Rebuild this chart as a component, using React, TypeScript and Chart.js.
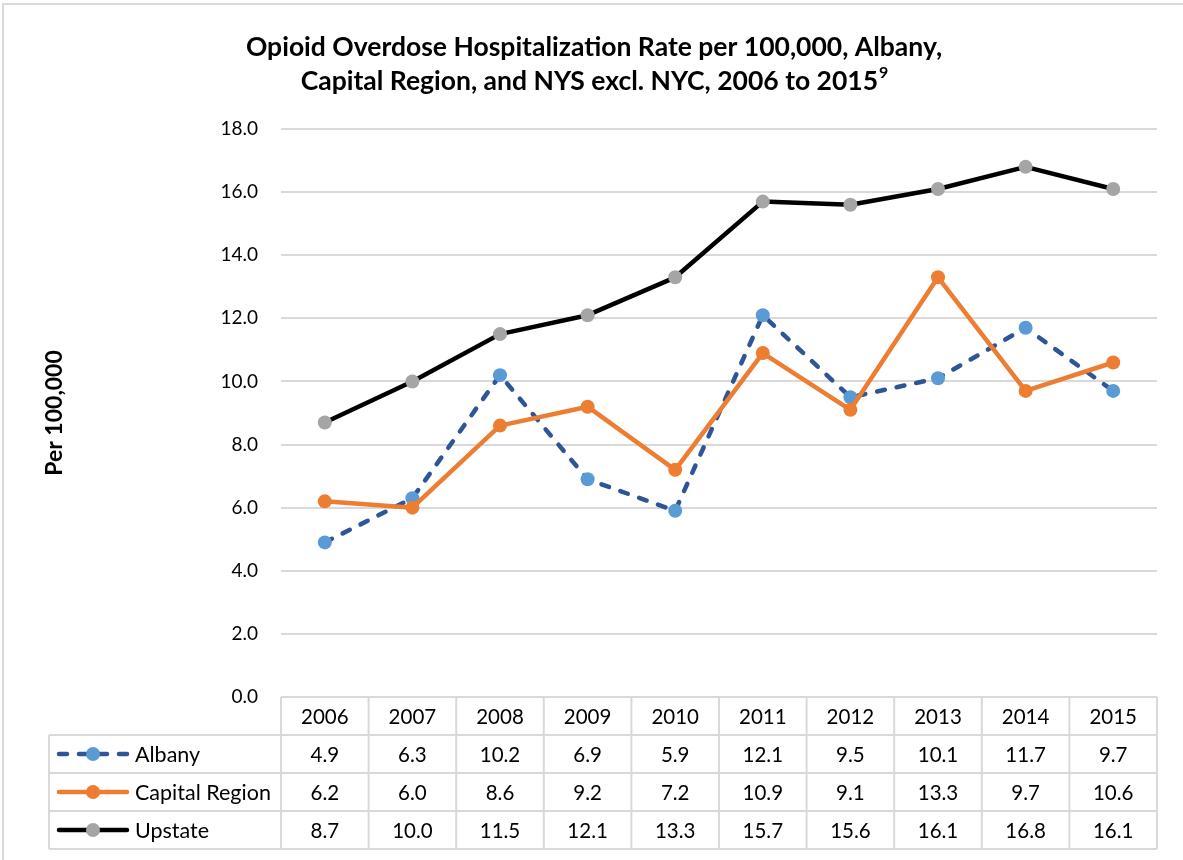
import React, { useEffect, useRef } from "react";
import { Chart, registerables } from "chart.js";

Chart.register(...registerables);

const years = ["2006", "2007", "2008", "2009", "2010", "2011", "2012", "2013", "2014", "2015"];
const albany = [4.9, 6.3, 10.2, 6.9, 5.9, 12.1, 9.5, 10.1, 11.7, 9.7];
const capitalRegion = [6.2, 6.0, 8.6, 9.2, 7.2, 10.9, 9.1, 13.3, 9.7, 10.6];
const upstate = [8.7, 10.0, 11.5, 12.1, 13.3, 15.7, 15.6, 16.1, 16.8, 16.1];
const seriesNames = ["Albany", "Capital Region", "Upstate"];
const titleLine1 = "Opioid Overdose Hospitalization Rate per 100,000, Albany,";
const titleLine2 = "Capital Region, and NYS excl. NYC, 2006 to 2015";
const titleSup = "9";
const yAxisTitle = "Per 100,000";

const FONT = "Lato, 'Open Sans', sans-serif";
const GRID = "#d9d9d9";

const extrasPlugin = {
  id: "extras",
  afterDraw(chart: any) {
    const ctx = chart.ctx;
    const x = chart.scales.x;
    const y = chart.scales.y;
    ctx.save();
    // outer border
    ctx.strokeStyle = GRID;
    ctx.lineWidth = 2;
    ctx.strokeRect(3, 4, 1200, 900);

    // title
    ctx.fillStyle = "#000";
    ctx.font = `bold 26.5px ${FONT}`;
    ctx.textAlign = "center";
    ctx.textBaseline = "middle";
    const cx = 594;
    ctx.fillText(titleLine1, cx, 47);
    const w2 = ctx.measureText(titleLine2).width;
    ctx.font = `bold 16px ${FONT}`;
    const ws = ctx.measureText(titleSup).width;
    const start = cx - (w2 + ws) / 2;
    ctx.textAlign = "left";
    ctx.font = `bold 26.5px ${FONT}`;
    ctx.fillText(titleLine2, start, 81);
    ctx.font = `bold 16px ${FONT}`;
    ctx.fillText(titleSup, start + w2 + 1, 73);

    // y axis title
    ctx.save();
    ctx.translate(55, (y.top + y.bottom) / 2);
    ctx.rotate(-Math.PI / 2);
    ctx.textAlign = "center";
    ctx.font = `bold 23px ${FONT}`;
    ctx.fillText(yAxisTitle, 0, 0);
    ctx.restore();

    // data table
    const step = x.getPixelForValue(1) - x.getPixelForValue(0);
    const left = chart.chartArea.left;
    const right = chart.chartArea.right;
    const top = chart.chartArea.bottom;
    const rowH = 38;
    const tableLeft = 49;
    const nRows = 4;
    ctx.strokeStyle = GRID;
    ctx.lineWidth = 2;
    ctx.beginPath();
    ctx.moveTo(left, top);
    ctx.lineTo(right, top);
    for (let r = 1; r <= nRows; r++) {
      ctx.moveTo(tableLeft, top + r * rowH);
      ctx.lineTo(right, top + r * rowH);
    }
    ctx.moveTo(tableLeft, top + rowH);
    ctx.lineTo(tableLeft, top + nRows * rowH);
    for (let i = 0; i <= years.length; i++) {
      const xx = left + i * step;
      ctx.moveTo(xx, top);
      ctx.lineTo(xx, top + nRows * rowH);
    }
    ctx.stroke();

    ctx.fillStyle = "#000";
    ctx.font = `20.5px ${FONT}`;
    ctx.textAlign = "center";
    ctx.textBaseline = "middle";
    years.forEach((yr, i) => {
      ctx.fillText(yr, x.getPixelForValue(i), top + rowH / 2 + 1);
    });
    chart.data.datasets.forEach((ds: any, idx: number) => {
      const rowY = top + (idx + 1) * rowH + rowH / 2 + 1;
      ctx.textAlign = "center";
      ctx.fillStyle = "#000";
      ctx.font = `20.5px ${FONT}`;
      ds.data.forEach((v: number, i: number) => {
        ctx.fillText(v.toFixed(1), x.getPixelForValue(i), rowY);
      });
      // legend key
      ctx.save();
      ctx.strokeStyle = ds.borderColor;
      ctx.lineWidth = ds.borderWidth;
      ctx.lineCap = "round";
      ctx.setLineDash(ds.borderDash || []);
      ctx.beginPath();
      ctx.moveTo(59, rowY - 1);
      ctx.lineTo(127, rowY - 1);
      ctx.stroke();
      ctx.setLineDash([]);
      ctx.fillStyle = ds.pointBackgroundColor;
      ctx.beginPath();
      ctx.arc(93, rowY - 1, 7, 0, Math.PI * 2);
      ctx.fill();
      ctx.restore();
      ctx.textAlign = "left";
      ctx.fillStyle = "#000";
      ctx.font = `21.5px ${FONT}`;
      ctx.fillText(ds.label, 135, rowY);
    });
    ctx.restore();
  },
};

export default function App() {
  const ref = useRef<HTMLCanvasElement | null>(null);
  useEffect(() => {
    if (!ref.current) return;
    const chart = new Chart(ref.current, {
      type: "line",
      data: {
        labels: years,
        datasets: [
          {
            label: seriesNames[0],
            data: albany,
            borderColor: "#2F5597",
            borderWidth: 4.5,
            borderDash: [8, 12],
            borderCapStyle: "round",
            pointBackgroundColor: "#5B9BD5",
            pointBorderColor: "#5B9BD5",
            pointRadius: 7,
            pointBorderWidth: 0,
            tension: 0,
            order: 2,
          },
          {
            label: seriesNames[1],
            data: capitalRegion,
            borderColor: "#ED7D31",
            borderWidth: 4.5,
            borderCapStyle: "round",
            borderJoinStyle: "round",
            pointBackgroundColor: "#ED7D31",
            pointBorderColor: "#ED7D31",
            pointRadius: 7,
            pointBorderWidth: 0,
            tension: 0,
            order: 1,
          },
          {
            label: seriesNames[2],
            data: upstate,
            borderColor: "#000000",
            borderWidth: 4.5,
            borderCapStyle: "round",
            borderJoinStyle: "round",
            pointBackgroundColor: "#A5A5A5",
            pointBorderColor: "#A5A5A5",
            pointRadius: 7,
            pointBorderWidth: 0,
            tension: 0,
            order: 0,
          },
        ],
      } as any,
      options: {
        responsive: false,
        animation: false,
        layout: { padding: { top: 129, bottom: 163, left: 0, right: 26 } },
        plugins: {
          legend: { display: false },
          title: { display: false },
          tooltip: { enabled: false },
        },
        scales: {
          x: {
            type: "category",
            offset: true,
            display: false,
          },
          y: {
            min: 0,
            max: 18,
            afterFit: (s: any) => {
              s.width = 281;
            },
            border: { display: false },
            grid: { color: GRID, lineWidth: 2, drawTicks: false },
            ticks: {
              stepSize: 2,
              padding: 23,
              color: "#000",
              font: { family: FONT, size: 19 },
              callback: (v: any) => Number(v).toFixed(1),
            },
          },
        },
      } as any,
      plugins: [extrasPlugin],
    });
    return () => chart.destroy();
  }, []);
  return (
    <div style={{ position: "absolute", left: 0, top: 0, width: 1183, height: 860, background: "#fff" }}>
      <canvas ref={ref} width={1183} height={860} style={{ display: "block" }} />
    </div>
  );
}
